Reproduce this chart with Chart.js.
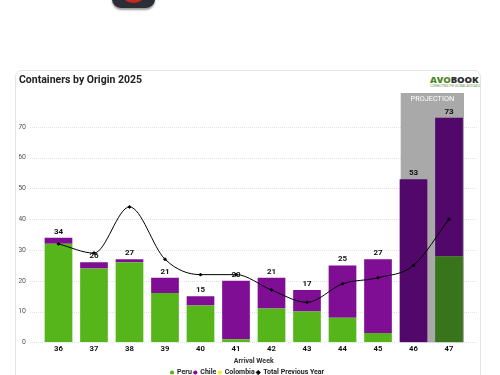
<!DOCTYPE html>
<html>
<head>
<meta charset="utf-8">
<script src="https://cdn.jsdelivr.net/npm/chart.js@4"></script>
<style>
  html, body { margin: 0; padding: 0; background: #fff; overflow: hidden; }
  body { width: 500px; height: 375px; position: relative; font-family: Roboto, sans-serif; }
  .card { position: absolute; left: 15px; top: 70px; width: 466px; height: 320px; border: 1px solid #e4e4e4; border-radius: 7px; box-sizing: border-box; }
  .icon { position: absolute; left: 112px; top: -32px; width: 43px; height: 40px; background: #2c2d36; border-radius: 9px; box-shadow: 0 2px 2px #999; }
  .icon div { position: absolute; left: 8px; top: 8px; width: 27px; height: 27px; background: #c8281c; border-radius: 50%; }
  .logo { position: absolute; left: 430px; top: 75px; width: 50px; font: 800 9.5px "Open Sans", sans-serif; letter-spacing: -0.1px; color: #2b2b2b; line-height: 10px; }
  .logo b { color: #4c8a2c; font-weight: 800; }
  .logo small { position: absolute; left: 0; top: 9px; font: 400 3px "Open Sans", sans-serif; color: #5a8a40; white-space: nowrap; }
  canvas { position: absolute; left: 0; top: 0; }
</style>
</head>
<body>
<div class="icon"><div></div></div>
<div class="card"></div>
<div class="logo"><b>AVO</b>BOOK<small>CONNECTING THE GLOBAL AVOCADO</small></div>
<canvas id="chart" width="500" height="375"></canvas>
<script>
const weeks = ['36', '37', '38', '39', '40', '41', '42', '43', '44', '45', '46', '47'];
const peru = [32, 24, 26, 16, 12, 1, 11, 10, 8, 3, 0, 28];
const chile = [2, 2, 1, 5, 3, 19, 10, 7, 17, 24, 53, 45];
const colombia = [0, 0, 0, 0, 0, 0, 0, 0, 0, 0, 0, 0];
const previousYear = [32, 29, 44, 27, 22, 22, 17, 13, 19, 21, 25, 40];
const totals = [34, 26, 27, 21, 15, 20, 21, 17, 25, 27, 53, 73];
const yTicks = [0, 10, 20, 30, 40, 50, 60, 70];
const projectionWeeks = ['46', '47'];

const font = 'Roboto, sans-serif';

// grid and the grey projection band go behind the bars
const backdrop = {
  id: 'backdrop',
  afterLayout(chart) {
    // legend sits a bit right of the padded box in the original
    chart.legend.left += 4.5;
    chart.legend.right += 4.5;
  },
  beforeDatasetsDraw(chart) {
    const { ctx, scales: { x, y }, chartArea } = chart;
    ctx.save();
    ctx.strokeStyle = '#e3e3e3';
    ctx.lineWidth = 1;
    ctx.setLineDash([1, 1]);
    yTicks.forEach(t => {
      const py = Math.round(y.getPixelForValue(t)) + 0.5;
      ctx.beginPath();
      ctx.moveTo(30, py);
      ctx.lineTo(478, py);
      ctx.stroke();
    });
    ctx.setLineDash([]);
    const left = x.getPixelForValue(weeks.indexOf(projectionWeeks[0])) - 12.8;
    const right = x.getPixelForValue(weeks.indexOf(projectionWeeks[1])) + 15;
    ctx.fillStyle = '#a9a9a9';
    ctx.fillRect(left, chartArea.top, right - left, chartArea.bottom - chartArea.top);
    ctx.fillStyle = '#fff';
    ctx.font = '7.3px ' + font;
    ctx.textAlign = 'center';
    ctx.textBaseline = 'middle';
    ctx.fillText('PROJECTION', (left + right) / 2, chartArea.top + 6);
    ctx.restore();
  }
};

// total labels on top of each stack
const totalLabels = {
  id: 'totalLabels',
  afterDatasetsDraw(chart) {
    const { ctx, scales: { x, y } } = chart;
    ctx.save();
    ctx.fillStyle = '#111';
    ctx.font = 'bold 8px ' + font;
    ctx.textAlign = 'center';
    ctx.textBaseline = 'bottom';
    totals.forEach((t, i) => {
      ctx.fillText(t, x.getPixelForValue(i), y.getPixelForValue(t) - 2);
    });
    ctx.restore();
  }
};

const isProjection = w => projectionWeeks.includes(w);

new Chart(document.getElementById('chart'), {
  type: 'bar',
  data: {
    labels: weeks,
    datasets: [
      {
        type: 'line',
        label: 'Total Previous Year',
        data: previousYear,
        stack: 'prev',
        order: 0,
        borderColor: '#000',
        backgroundColor: '#000',
        borderWidth: 1,
        cubicInterpolationMode: 'monotone',
        pointStyle: 'rectRot',
        pointRadius: 1.5,
        pointHoverRadius: 1.5,
        clip: false
      },
      {
        label: 'Peru',
        data: peru,
        stack: 'now',
        order: 1,
        backgroundColor: weeks.map(w => isProjection(w) ? '#37741a' : '#55b51b'),
        pointStyle: 'circle'
      },
      {
        label: 'Chile',
        data: chile,
        stack: 'now',
        order: 1,
        backgroundColor: weeks.map(w => isProjection(w) ? '#52086a' : '#7f0e95'),
        pointStyle: 'circle'
      },
      {
        label: 'Colombia',
        data: colombia,
        stack: 'now',
        order: 1,
        backgroundColor: '#f5e642',
        pointStyle: 'circle'
      }
    ]
  },
  options: {
    responsive: false,
    animation: false,
    layout: { padding: { left: 19, right: 33.25, top: 74, bottom: -11 } },
    datasets: { bar: { barPercentage: 0.78, categoryPercentage: 1 } },
    plugins: {
      title: {
        display: true,
        text: 'Containers by Origin 2025',
        align: 'start',
        color: '#222',
        font: { family: font, size: 10.5, weight: 'bold' },
        padding: { top: 0, bottom: 6.4 }
      },
      legend: {
        position: 'bottom',
        labels: {
          usePointStyle: true,
          boxWidth: 3,
          boxHeight: 3,
          padding: 2,
          color: '#222',
          font: { family: font, size: 7, weight: 'bold' },
          sort: (a, b) => (a.datasetIndex === 0 ? 1 : 0) - (b.datasetIndex === 0 ? 1 : 0)
        }
      },
      tooltip: { enabled: false }
    },
    scales: {
      x: {
        stacked: true,
        grid: { display: false, drawTicks: false },
        border: { display: false },
        ticks: { color: '#111', padding: 2, maxRotation: 0, font: { family: font, size: 7.7, weight: 'bold' } },
        title: {
          display: true,
          text: 'Arrival Week',
          color: '#333',
          font: { family: font, size: 7, weight: 'bold' },
          padding: { top: 1, bottom: 2 }
        }
      },
      y: {
        stacked: true,
        min: 0,
        max: 81,
        afterBuildTicks: axis => { axis.ticks = yTicks.map(v => ({ value: v })); },
        afterFit: axis => { axis.width = 21.75; },
        grid: { display: false, drawTicks: false },
        border: { display: false },
        ticks: { color: '#555', padding: 14.75, font: { family: font, size: 7 } }
      }
    }
  },
  plugins: [backdrop, totalLabels]
});
</script>
</body>
</html>
